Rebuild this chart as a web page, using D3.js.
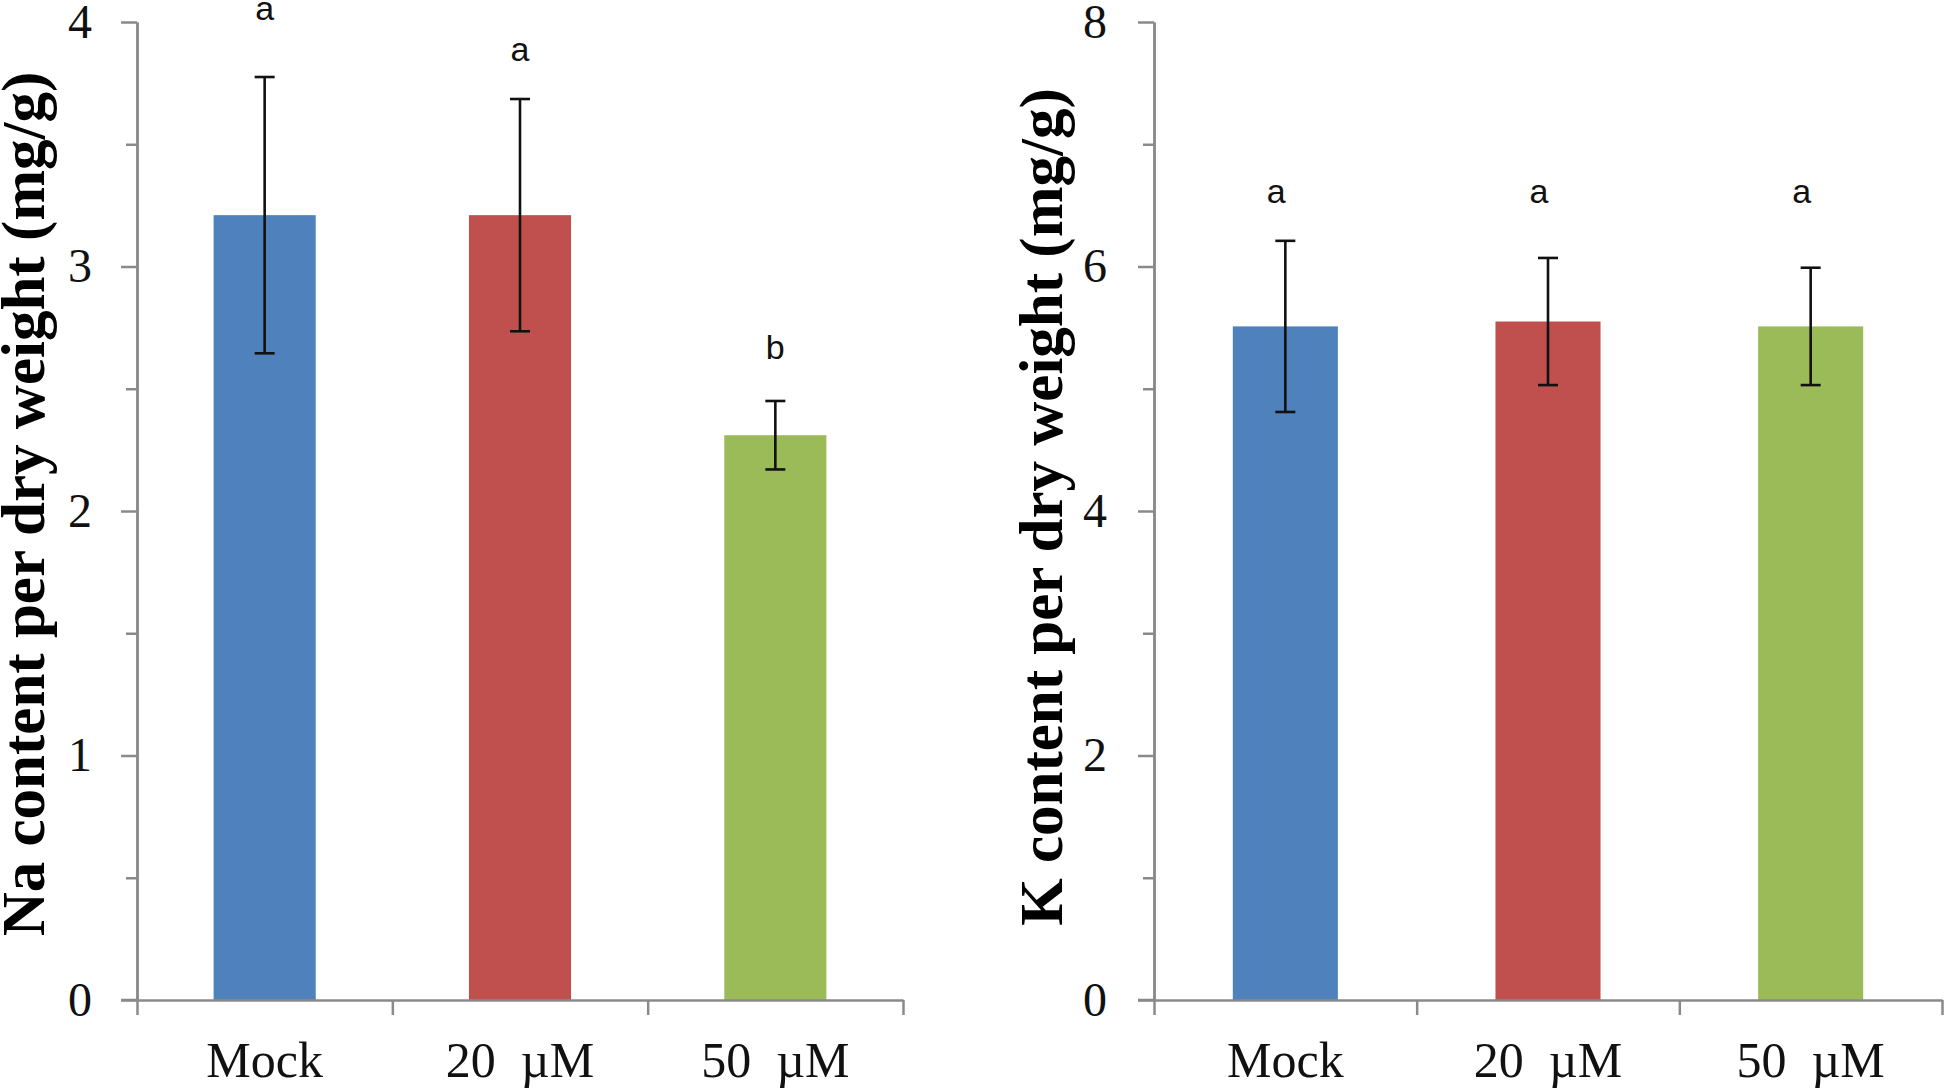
<!DOCTYPE html>
<html><head><meta charset="utf-8">
<script src="https://cdn.jsdelivr.net/npm/d3@7"></script>
<style>body{margin:0;background:#fff} svg{display:block}</style>
</head><body>
<svg id="c" width="1946" height="1092"></svg>
<script>
const categories = ["Mock", "20  µM", "50  µM"];
const naMeans = [3.21, 3.21, 2.31];
const naErrors = [0.565, 0.475, 0.14];
const naLetters = ["a", "a", "b"];
const naLetterLevels = [4.01, 3.84, 2.62];
const kMeans = [5.51, 5.55, 5.51];
const kErrors = [0.70, 0.52, 0.48];
const kLetters = ["a", "a", "a"];
const kLetterLevels = [6.52, 6.52, 6.52];
const naTicks = [0, 1, 2, 3, 4];
const naMinorTicks = [0.5, 1.5, 2.5, 3.5];
const kTicks = [0, 2, 4, 6, 8];
const kMinorTicks = [1, 3, 5, 7];
const colors = ["#4F81BD", "#C0504D", "#9BBB59"];

const svg = d3.select("#c");
const AXIS = "#8a8a8a";
const SERIF = "'Liberation Serif','Times New Roman',serif";
const SANS = "'Liberation Sans',Arial,sans-serif";
const Y0 = 1000, Y1 = 22;

function panel(o) {
  const g = svg.append("g");
  const y = d3.scaleLinear().domain([0, o.max]).range([Y0, Y1]);
  const xb = d3.scaleBand().domain(categories).range([o.x0, o.x1]).paddingInner(0.6).paddingOuter(0.3);
  const xl = d3.scaleLinear().domain([0, categories.length]).range([o.x0, o.x1]);

  g.selectAll("rect.bar").data(o.means).join("rect")
    .attr("x", (d, i) => xb(categories[i]))
    .attr("width", xb.bandwidth())
    .attr("y", d => y(d))
    .attr("height", d => Y0 - y(d))
    .attr("fill", (d, i) => colors[i]);

  const minorAx = g.append("g").attr("transform", `translate(${o.x0},0)`)
    .call(d3.axisLeft(y).tickValues(o.minor).tickSize(11).tickSizeOuter(0).tickFormat(""));
  const ax = g.append("g").attr("transform", `translate(${o.x0},0)`)
    .call(d3.axisLeft(y).tickValues(o.ticks).tickSize(16).tickSizeOuter(0).tickPadding(o.pad).tickFormat(d3.format("d")));
  [minorAx, ax].forEach(a => {
    a.select(".domain").attr("stroke", AXIS).attr("stroke-width", 2.5);
    a.selectAll(".tick line").attr("stroke", AXIS).attr("stroke-width", 2.5);
  });
  ax.selectAll(".tick text").attr("font-family", SERIF).attr("font-size", 48).attr("fill", "#111");

  const xa = g.append("g").attr("transform", `translate(0,${Y0})`)
    .call(d3.axisBottom(xl).tickValues(d3.range(categories.length + 1)).tickSize(15).tickSizeOuter(0).tickFormat(""));
  xa.select(".domain").attr("stroke", AXIS).attr("stroke-width", 2.5);
  xa.selectAll(".tick line").attr("stroke", AXIS).attr("stroke-width", 2.5);
  g.append("line").attr("x1", o.x0 - 16).attr("x2", o.x0).attr("y1", Y0).attr("y2", Y0)
    .attr("stroke", AXIS).attr("stroke-width", 2.5);

  g.selectAll("text.cat").data(categories).join("text")
    .attr("x", d => xb(d) + xb.bandwidth() / 2)
    .attr("y", 1077)
    .attr("text-anchor", "middle")
    .attr("font-family", SERIF).attr("font-size", 50).attr("fill", "#111")
    .style("white-space", "pre")
    .text(d => d);

  const cx = i => xb(categories[i]) + xb.bandwidth() / 2;
  const eb = g.selectAll("g.err").data(o.means).join("g");
  eb.append("line").attr("x1", (d, i) => cx(i)).attr("x2", (d, i) => cx(i))
    .attr("y1", (d, i) => y(d + o.errs[i])).attr("y2", (d, i) => y(d - o.errs[i]));
  eb.append("line").attr("x1", (d, i) => cx(i) - 10).attr("x2", (d, i) => cx(i) + 10)
    .attr("y1", (d, i) => y(d + o.errs[i])).attr("y2", (d, i) => y(d + o.errs[i]));
  eb.append("line").attr("x1", (d, i) => cx(i) - 10).attr("x2", (d, i) => cx(i) + 10)
    .attr("y1", (d, i) => y(d - o.errs[i])).attr("y2", (d, i) => y(d - o.errs[i]));
  eb.selectAll("line").attr("stroke", "#111").attr("stroke-width", 2.6);

  g.selectAll("text.let").data(o.letters).join("text")
    .attr("x", (d, i) => cx(i) + o.letterDx)
    .attr("y", (d, i) => y(o.levels[i]))
    .attr("text-anchor", "middle")
    .attr("font-family", SANS).attr("font-size", 34).attr("fill", "#111")
    .text(d => d);

  g.append("text")
    .attr("transform", `translate(${o.titleX},${o.titleY}) rotate(-90)`)
    .attr("text-anchor", "middle")
    .attr("font-family", SERIF).attr("font-weight", "bold").attr("font-size", 61).attr("fill", "#000")
    .text(o.title);
}

panel({x0: 137, x1: 903, max: 4, ticks: naTicks, minor: naMinorTicks, pad: 29,
  means: naMeans, errs: naErrors, letters: naLetters, levels: naLetterLevels, letterDx: 0,
  titleX: 44, titleY: 504, title: "Na content per dry weight (mg/g)"});
panel({x0: 1154, x1: 1942, max: 8, ticks: kTicks, minor: kMinorTicks, pad: 31,
  means: kMeans, errs: kErrors, letters: kLetters, levels: kLetterLevels, letterDx: -9,
  titleX: 1062, titleY: 507, title: "K content per dry weight (mg/g)"});
</script>
</body></html>
